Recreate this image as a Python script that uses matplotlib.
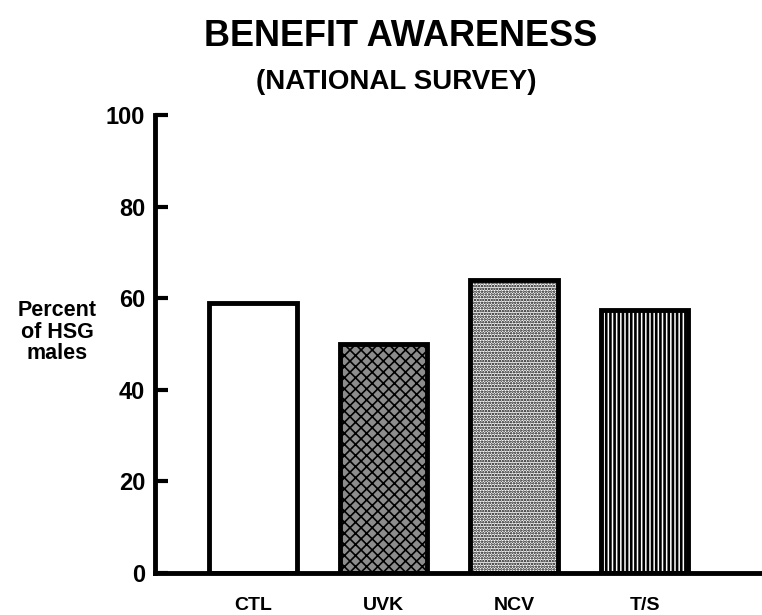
import matplotlib
matplotlib.use("Agg")
import matplotlib.pyplot as plt

categories = ["CTL", "UVK", "NCV", "T/S"]
values = [59, 50, 64, 57.5]
yticks = [0, 20, 40, 60, 80, 100]

body_font = "Liberation Sans"

fig = plt.figure(figsize=(7.62, 6.15), dpi=100)
ax = fig.add_axes([0.2034, 0.0683, 0.7966, 0.7447])

styles = [
    dict(facecolor="white", hatch=None, hlw=1.2),
    dict(facecolor="#8c8c8c", hatch="xxx", hlw=1.2),
    dict(facecolor="white", hatch="......", hlw=1.2),
    dict(facecolor="white", hatch="||||", hlw=1.9),
]
x = list(range(len(categories)))
for xi, v, st in zip(x, values, styles):
    with plt.rc_context({"hatch.linewidth": st["hlw"]}):
        ax.bar(xi, v, width=0.67, facecolor=st["facecolor"], edgecolor="black",
               linewidth=3.5, hatch=st["hatch"], zorder=2)

ax.set_xlim(-0.75, 3.9)
ax.set_ylim(0, 100)
ax.set_xticks(x)
ax.set_xticklabels(categories, fontfamily=body_font, fontweight="bold", fontsize=14)
ax.set_yticks(yticks)
ax.set_yticklabels([str(t) for t in yticks], fontfamily=body_font, fontweight="bold", fontsize=17)
ax.tick_params(axis="y", direction="in", length=9, width=3, pad=7)
ax.tick_params(axis="x", length=0, pad=17)

for s in ["top", "right"]:
    ax.spines[s].set_visible(False)
ax.spines["left"].set_linewidth(3.5)
ax.spines["bottom"].set_linewidth(3.5)
ax.patch.set_visible(False)

fig.text(0.075, 0.46, "Percent\nof HSG\nmales", ha="center", va="center",
         fontfamily=body_font, fontweight="bold", fontsize=15.5, linespacing=1.05)

fig.text(0.526, 0.94, "BENEFIT AWARENESS", ha="center", va="center",
         fontfamily=body_font, fontweight="bold", fontsize=26)
fig.text(0.52, 0.867, "(NATIONAL SURVEY)", ha="center", va="center",
         fontfamily=body_font, fontweight="bold", fontsize=20)

fig.savefig("out.png", dpi=100)
